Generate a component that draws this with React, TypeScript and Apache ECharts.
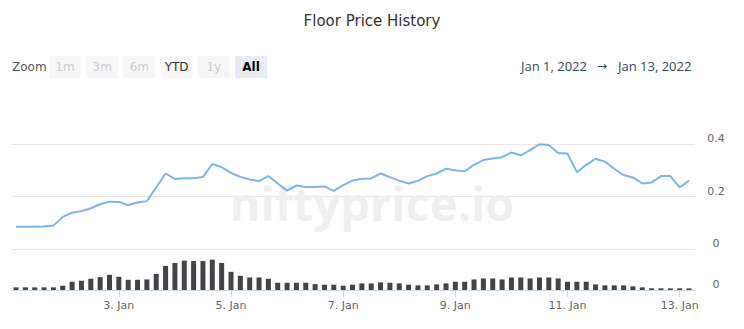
import React, { useEffect, useRef } from 'react';
import * as echarts from 'echarts';

// Floor price, one point every 4 hours from Jan 1 04:00 to Jan 13 04:00 (2022)
const floorPrice = [
  0.086, 0.086, 0.086, 0.087, 0.090, 0.123, 0.139, 0.145, 0.156, 0.171,
  0.181, 0.180, 0.168, 0.178, 0.183, 0.235, 0.288, 0.267, 0.270, 0.270,
  0.275, 0.324, 0.312, 0.290, 0.275, 0.265, 0.259, 0.278, 0.250, 0.223,
  0.242, 0.237, 0.237, 0.239, 0.222, 0.244, 0.261, 0.268, 0.269, 0.288,
  0.274, 0.261, 0.250, 0.260, 0.278, 0.288, 0.306, 0.300, 0.296, 0.321,
  0.339, 0.345, 0.350, 0.368, 0.357, 0.377, 0.399, 0.396, 0.366, 0.364,
  0.293, 0.321, 0.344, 0.333, 0.306, 0.282, 0.273, 0.250, 0.254, 0.278,
  0.278, 0.235, 0.261,
];

// Volume (relative units)
const volume = [
  8, 8, 8, 8, 8, 13, 25, 28, 34, 39,
  46, 40, 31, 31, 32, 49, 73, 82, 89, 88,
  88, 92, 82, 55, 43, 38, 38, 34, 22, 22,
  22, 22, 18, 16, 16, 13, 16, 20, 20, 23,
  22, 20, 16, 14, 14, 17, 20, 25, 25, 32,
  35, 35, 32, 38, 38, 35, 38, 38, 35, 25,
  25, 25, 17, 14, 14, 14, 11, 8, 5, 5,
  5, 5, 5,
];

const tickIndices = [11, 23, 35, 47, 59, 71];
const tickLabels = ['3. Jan', '5. Jan', '7. Jan', '9. Jan', '11. Jan', '13. Jan'];
const zoomButtons = ['1m', '3m', '6m', 'YTD', '1y', 'All'];
const enabledButtons = ['YTD', 'All'];
const selectedButton = 'All';
const dateRange = ['Jan 1, 2022', 'Jan 13, 2022'];

export default function App() {
  const ref = useRef<HTMLDivElement>(null);

  useEffect(() => {
    if (!ref.current) return;
    const chart = echarts.init(ref.current, undefined, { renderer: 'svg' });

    const priceData = floorPrice.map((v, i) => [i, v]);
    const volumeData = volume.map((v, i) => [i, v]);

    const buttonGraphics: any[] = [];
    zoomButtons.forEach((b, k) => {
      const x = 49 + 37.2 * k;
      const selected = b === selectedButton;
      const enabled = enabledButtons.includes(b);
      buttonGraphics.push({
        type: 'rect',
        shape: { x, y: 56, width: 32, height: 22 },
        style: { fill: selected ? '#e6ebf5' : '#f7f7f7' },
        silent: true,
      });
      buttonGraphics.push({
        type: 'text',
        style: {
          text: b,
          x: x + 16,
          y: 67,
          align: 'center',
          verticalAlign: 'middle',
          fill: selected ? '#000000' : enabled ? '#333333' : '#cccccc',
          fontSize: 12,
          fontWeight: selected ? 'bold' : 'normal',
          fontFamily: 'DejaVu Sans',
        },
        silent: true,
      });
    });

    const option: any = {
      animation: false,
      backgroundColor: '#ffffff',
      title: {
        text: 'Floor Price History',
        left: 'center',
        top: 13,
        padding: 0,
        textStyle: { fontFamily: 'DejaVu Sans', fontSize: 15, fontWeight: 'normal', color: '#333333' },
      },
      grid: [
        { left: 12, right: 49, top: 144, height: 105.3 },
        { left: 12, right: 49, top: 257, height: 33 },
      ],
      xAxis: [
        { type: 'value', gridIndex: 0, min: -0.43, max: 72.64, show: false },
        {
          type: 'value',
          gridIndex: 1,
          min: -0.43,
          max: 72.64,
          axisLine: { show: true, lineStyle: { color: '#ccd6eb', width: 1 } },
          axisTick: { show: true, customValues: tickIndices, length: 7, lineStyle: { color: '#ccd6eb' } },
          axisLabel: {
            customValues: tickIndices,
            formatter: (v: number) => tickLabels[tickIndices.indexOf(Math.round(v))] ?? '',
            color: '#666666',
            fontSize: 11,
            fontFamily: 'DejaVu Sans',
            margin: 10,
          },
          splitLine: { show: false },
        },
      ],
      yAxis: [
        {
          type: 'value',
          gridIndex: 0,
          position: 'right',
          min: 0,
          max: 0.4,
          interval: 0.2,
          axisLine: { show: false },
          axisTick: { show: false },
          splitLine: { show: true, lineStyle: { color: '#e6e6e6', width: 1 } },
          axisLabel: {
            color: '#666666',
            fontSize: 11,
            fontFamily: 'DejaVu Sans',
            align: 'center',
            verticalAlign: 'bottom',
            margin: 21,
            formatter: (v: number) => String(Math.round(v * 10) / 10),
          },
        },
        {
          type: 'value',
          gridIndex: 1,
          position: 'right',
          min: 0,
          max: 100,
          interval: 100,
          axisLine: { show: false },
          axisTick: { show: false },
          splitLine: { show: false },
          axisLabel: {
            color: '#666666',
            fontSize: 11,
            fontFamily: 'DejaVu Sans',
            align: 'center',
            verticalAlign: 'bottom',
            margin: 21,
            formatter: (v: number) => (v === 0 ? '0' : ''),
          },
        },
      ],
      series: [
        {
          type: 'line',
          xAxisIndex: 0,
          yAxisIndex: 0,
          data: priceData,
          showSymbol: false,
          symbol: 'none',
          lineStyle: { color: '#7cb5ec', width: 2 },
          z: 3,
        },
        {
          type: 'bar',
          xAxisIndex: 1,
          yAxisIndex: 1,
          data: volumeData,
          barWidth: 5,
          itemStyle: { color: '#434348' },
          z: 3,
        },
      ],
      graphic: [
        {
          type: 'text',
          z: 1,
          silent: true,
          style: {
            text: 'niftyprice.io',
            x: 372,
            y: 203,
            align: 'center',
            verticalAlign: 'middle',
            fill: '#efefef',
            fontSize: 47,
            fontWeight: 'bold',
            fontFamily: 'Open Sans',
          },
        },
        {
          type: 'text',
          silent: true,
          style: {
            text: 'Zoom',
            x: 12,
            y: 67,
            align: 'left',
            verticalAlign: 'middle',
            fill: '#555555',
            fontSize: 12,
            fontFamily: 'DejaVu Sans',
          },
        },
        ...buttonGraphics,
        {
          type: 'text',
          silent: true,
          style: {
            text: dateRange[0],
            x: 521,
            y: 66,
            align: 'left',
            verticalAlign: 'middle',
            fill: '#34495e',
            fontSize: 13,
            fontFamily: 'Open Sans',
          },
        },
        {
          type: 'text',
          silent: true,
          style: {
            text: '→',
            x: 602,
            y: 66,
            align: 'center',
            verticalAlign: 'middle',
            fill: '#34495e',
            fontSize: 12,
            fontFamily: 'DejaVu Sans',
          },
        },
        {
          type: 'text',
          silent: true,
          style: {
            text: dateRange[1],
            x: 618,
            y: 66,
            align: 'left',
            verticalAlign: 'middle',
            fill: '#34495e',
            fontSize: 13,
            fontFamily: 'Open Sans',
          },
        },
      ],
    };

    chart.setOption(option);
    return () => chart.dispose();
  }, []);

  return (
    <div
      ref={ref}
      style={{ position: 'fixed', left: 0, top: 0, width: 744, height: 329 }}
    />
  );
}
